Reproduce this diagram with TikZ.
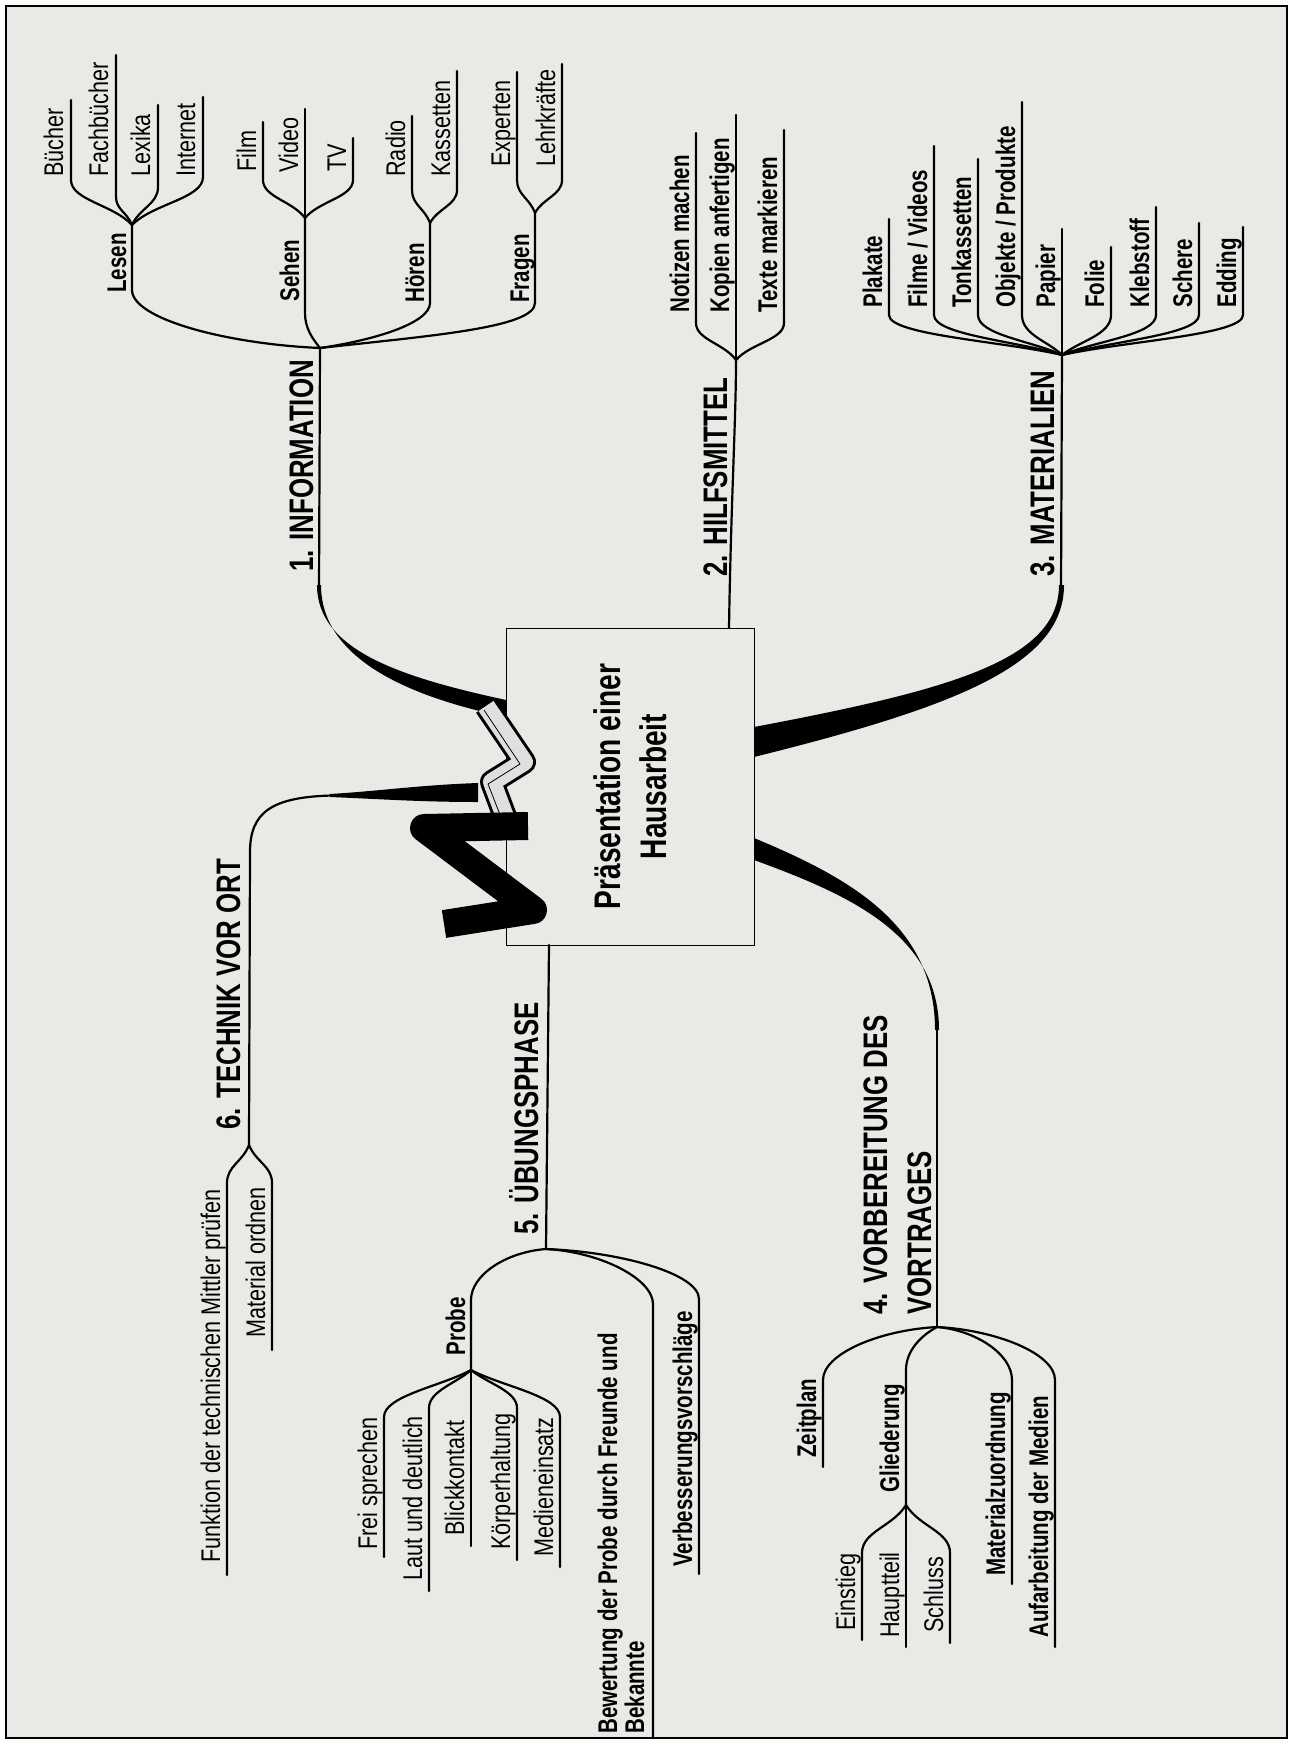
\documentclass[tikz,border=0pt]{standalone}
\usepackage{fontspec}
\setmainfont{Liberation Sans}[FakeStretch=0.8,BoldFeatures={FakeStretch=0.76}]
\definecolor{paper}{RGB}{233,233,229}
\tikzset{
  branch/.style={line width=1.1pt, line cap=round},
  leaf/.style={rotate=90, anchor=base west, inner sep=0pt, font=\fontsize{13.5}{15}\selectfont},
  leafb/.style={leaf, font=\fontsize{13.5}{15}\selectfont\bfseries},
  head/.style={rotate=90, anchor=base west, inner sep=0pt, font=\fontsize{17}{19}\selectfont\bfseries},
}
\begin{document}
\begin{tikzpicture}[x=0.5pt,y=-0.5pt]
\useasboundingbox (0,0) rectangle (1293,1744);
\fill[white] (0,0) rectangle (1293,1744);
\draw[line width=1pt, fill=paper] (6,6) rectangle (1287,1738);

\node[draw, fill=paper, line width=0.5pt, rotate=90, minimum width=158.5pt, minimum height=124pt,
  align=center, font=\fontsize{18.5}{23}\selectfont\bfseries] (centre) at (630,786.5) {Präsentation einer\\Hausarbeit};

% 1. INFORMATION
\coordinate (info) at (320,348);
\fill (317,585) .. controls (317,650) and (400,677) .. (506,700) -- (506,717) .. controls (400,695) and (321,655) .. (321,585) -- cycle;
\draw[branch] (319,590) -- (info);
\node[head] (h-info) at (313,572) {1. INFORMATION};

\coordinate (lesen) at (132,225);
\draw[branch] (info) .. controls +(-93,-4) and +(0,29) .. (132,290) -- (lesen);
\node[leafb] (t-lesen) at (126,293) {Lesen};
\foreach \x/\ya/\yb/\ys/\txt [count=\i] in {71/100/180/177/Bücher, 116/55/197/177/Fachbücher, 158/105/187/177/Lexika, 203/97/177/177/Internet}{
  \coordinate (lesen-\i) at (\x,\yb);
  \draw[branch] (lesen) .. controls +({(\x-132)*0.3},{-(225-\yb)*0.45}) and +(0,{(225-\yb)*0.45}) .. (lesen-\i) -- (\x,\ya);
  \node[leaf] (t-lesen-\i) at ({\x-8},\ys) {\txt};
}

\coordinate (sehen) at (305,218);
\draw[branch] (info) .. controls +(-8,-10) and +(0,15) .. (305,313) -- (sehen);
\node[leafb] (t-sehen) at (299,302) {Sehen};
\foreach \x/\ya/\yb/\ys/\txt [count=\i] in {263/122/180/172/Film, 305/109/218/173/Video, 353/138/180/172/TV}{
  \coordinate (sehen-\i) at (\x,\yb);
  \draw[branch] (sehen) .. controls +({(\x-305)*0.3},{-(218-\yb)*0.45}) and +(0,{(218-\yb)*0.45}) .. (sehen-\i) -- (\x,\ya);
  \node[leaf] (t-sehen-\i) at ({\x-7},\ys) {\txt};
}

\coordinate (hoeren) at (430,223);
\draw[branch] (info) .. controls +(55,-8) and +(0,20) .. (430,303) -- (hoeren);
\node[leafb] (t-hoeren) at (424,303) {Hören};
\foreach \x/\ya/\yb/\ys/\txt [count=\i] in {412/116/190/177/Radio, 457/71/190/177/Kassetten}{
  \coordinate (hoeren-\i) at (\x,\yb);
  \draw[branch] (hoeren) .. controls +({(\x-430)*0.3},{-(223-\yb)*0.45}) and +(0,{(223-\yb)*0.45}) .. (hoeren-\i) -- (\x,\ya);
  \node[leaf] (t-hoeren-\i) at ({\x-7},\ys) {\txt};
}

\coordinate (fragen) at (535,213);
\draw[branch] (info) .. controls +(107,-12) and +(0,25) .. (535,303) -- (fragen);
\node[leafb] (t-fragen) at (529,303) {Fragen};
\foreach \x/\ya/\yb/\ys/\txt [count=\i] in {517/72/180/167/Experten, 562/64/180/167/Lehrkräfte}{
  \coordinate (fragen-\i) at (\x,\yb);
  \draw[branch] (fragen) .. controls +({(\x-535)*0.3},{-(213-\yb)*0.45}) and +(0,{(213-\yb)*0.45}) .. (fragen-\i) -- (\x,\ya);
  \node[leaf] (t-fragen-\i) at ({\x-7},\ys) {\txt};
}

% 2. HILFSMITTEL
\coordinate (hilf) at (736,360);
\draw[branch] (729,628) .. controls (731,500) and (736,420) .. (hilf);
\node[head] (h-hilf) at (727,577) {2. HILFSMITTEL};
\foreach \x/\ya/\yb/\ys/\txt [count=\i] in {696/133/323/313/Notizen machen, 736/115/360/313/Kopien anfertigen, 784/130/323/313/Texte markieren}{
  \coordinate (hilf-\i) at (\x,\yb);
  \draw[branch] (hilf) .. controls +({(\x-736)*0.3},{-(360-\yb)*0.45}) and +(0,{(360-\yb)*0.45}) .. (hilf-\i) -- (\x,\ya);
  \node[leafb] (t-hilf-\i) at ({\x-7},\ys) {\txt};
}

% 3. MATERIALIEN
\coordinate (mat) at (1062,355);
\fill (1059,585) .. controls (1059,660) and (950,690) .. (754,727) -- (754,757) .. controls (955,707) and (1064,665) .. (1064,585) -- cycle;
\draw[branch] (1061,590) -- (mat);
\node[head] (h-mat) at (1054,577) {3. MATERIALIEN};
\foreach \x/\ya/\yb/\ys/\txt [count=\i] in {889/219/315/308/Plakate, 934/146/315/308/{Filme / Videos}, 978/159/315/308/Tonkassetten,
  1022/102/315/308/{Objekte / Produkte}, 1062/229/355/308/Papier, 1111/247/315/308/Folie, 1156/207/315/308/Klebstoff,
  1199/223/315/308/Schere, 1243/227/315/308/Edding}{
  \coordinate (mat-\i) at (\x,\yb);
  \draw[branch] (mat) .. controls +({(\x-1062)*0.35},{-(355-\yb)*0.35}) and +(0,{(355-\yb)*0.5}) .. (mat-\i) -- (\x,\ya);
  \node[leafb] (t-mat-\i) at ({\x-7},\ys) {\txt};
}

% 4. VORBEREITUNG DES VORTRAGES
\coordinate (vor) at (937,1327);
\fill (754,838) .. controls (850,878) and (935,925) .. (935,1030) -- (939,1030) .. controls (939,935) and (850,895) .. (754,860) -- cycle;
\draw[branch] (937,1025) -- (vor);
\node[head] (h-vor) at (887,1315) {4. VORBEREITUNG DES};
\node[head] (h-vor2) at (931,1315) {VORTRAGES};
\foreach \x/\ya/\yb/\ys/\txt [count=\i] in {823/1380/1467/1458/Zeitplan, 1012/1380/1584/1576/Materialzuordnung, 1055/1380/1647/1638/{Aufarbeitung der Medien}}{
  \coordinate (vor-\i) at (\x,\ya);
  \draw[branch] (vor) .. controls +({(\x-937)*0.5},3) and +(0,{-(\ya-1327)*0.5}) .. (vor-\i) -- (\x,\yb);
  \node[leafb] (t-vor-\i) at ({\x-7},\ys) {\txt};
}
\coordinate (glied) at (906,1505);
\draw[branch] (vor) .. controls +(-15,8) and +(0,-20) .. (906,1370) -- (glied);
\node[leafb] (t-glied) at (899,1493) {Gliederung};
\foreach \x/\ya/\yb/\ys/\txt [count=\i] in {862/1553/1640/1631/Einstieg, 906/1505/1647/1638/Hauptteil, 950/1553/1643/1633/Schluss}{
  \coordinate (glied-\i) at (\x,\ya);
  \draw[branch] (glied) .. controls +({(\x-906)*0.3},{(\ya-1505)*0.45}) and +(0,{-(\ya-1505)*0.45}) .. (glied-\i) -- (\x,\yb);
  \node[leaf] (t-glied-\i) at ({\x-7},\ys) {\txt};
}

% 5. UEBUNGSPHASE
\coordinate (ueb) at (546,1249);
\draw[branch] (549,945) -- (ueb);
\node[head] (h-ueb) at (538,1235) {5. ÜBUNGSPHASE};
\coordinate (probe) at (471,1370);
\draw[branch] (ueb) .. controls +(-40,3) and +(0,-25) .. (471,1300) -- (probe);
\node[leafb] (t-probe) at (465,1356) {Probe};
\foreach \x/\ya/\yb/\ys/\txt [count=\i] in {384/1417/1557/1550/Frei sprechen, 429/1408/1591/1581/Laut und deutlich, 471/1370/1546/1536/Blickkontakt,
  517/1408/1560/1550/Körperhaltung, 560/1417/1567/1557/Medieneinsatz}{
  \coordinate (probe-\i) at (\x,\ya);
  \draw[branch] (probe) .. controls +({(\x-471)*0.35},{(\ya-1370)*0.35}) and +(0,{-(\ya-1370)*0.45}) .. (probe-\i) -- (\x,\yb);
  \node[leaf] (t-probe-\i) at ({\x-7},\ys) {\txt};
}
\coordinate (bew) at (653,1304);
\draw[branch] (ueb) .. controls +(55,3) and +(0,-25) .. (bew) -- (653,1738);
\node[leafb] (t-bew) at (617,1734) {Bewertung der Probe durch Freunde und};
\node[leafb] (t-bew2) at (644,1734) {Bekannte};
\coordinate (verb) at (699,1299);
\draw[branch] (ueb) .. controls +(76,3) and +(0,-25) .. (verb) -- (699,1574);
\node[leafb] (t-verb) at (692,1567) {Verbesserungsvorschläge};

% 6. TECHNIK VOR ORT
\coordinate (tech) at (249,1145);
\fill (478,783) .. controls (420,785) and (380,791) .. (330,794) -- (330,797) .. controls (380,799) and (420,802) .. (478,802) -- cycle;
\draw[branch] (332,795.5) .. controls (272,797) and (250,812) .. (250,852) -- (tech);
\node[head] (h-tech) at (240,1130) {6. TECHNIK VOR ORT};
\foreach \x/\ya/\yb/\ys/\txt [count=\i] in {227/1183/1575/1563/{Funktion der technischen Mittler prüfen}, 272/1183/1350/1338/{Material ordnen}}{
  \coordinate (tech-\i) at (\x,\ya);
  \draw[branch] (tech) .. controls +({(\x-249)*0.3},{(\ya-1145)*0.45}) and +(0,{-(\ya-1145)*0.45}) .. (tech-\i) -- (\x,\yb);
  \node[leaf] (t-tech-\i) at ({\x-7},\ys) {\txt};
}

% ribbon
\draw[line width=12pt, line join=round] (486,706) -- (524,762) -- (492,782) -- (510,830);
\draw[line width=9pt, line join=round, gray!25] (486,706) -- (524,762) -- (492,782) -- (510,830);
\draw[line width=0.4pt, line join=round] (484,710) -- (520,764) -- (488,784) -- (506,830);
\draw[line width=14pt, line join=round] (528,826) -- (424,828) -- (533,910) -- (444,924);
\end{tikzpicture}
\end{document}
